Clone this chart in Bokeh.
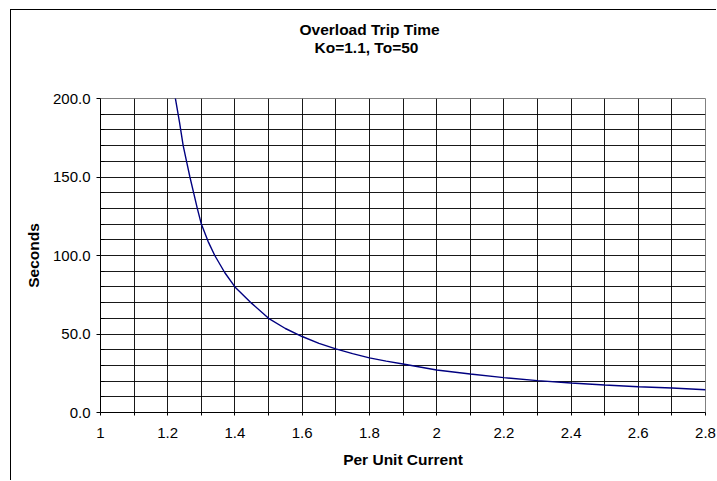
from bokeh.plotting import figure
from bokeh.models import FixedTicker, Range1d, Title
from bokeh.embed import file_html
from bokeh.resources import INLINE

# Data
current = [1.218, 1.235, 1.246, 1.256, 1.266, 1.277, 1.288, 1.30, 1.32, 1.34, 1.37,
           1.40, 1.45, 1.50, 1.55, 1.60, 1.65, 1.70, 1.75, 1.80, 1.85,
           1.90, 2.0, 2.1, 2.2, 2.3, 2.4, 2.5, 2.6, 2.7, 2.8]
seconds = [206, 185, 170, 160, 150, 140, 130, 120, 109, 100, 89,
           80, 69.5, 60, 53.5, 48.4, 44, 40.5, 37.5, 34.8, 32.7,
           30.9, 27.1, 24.5, 22.2, 20.3, 18.8, 17.5, 16.4, 15.6, 14.5]

x_ticks = [1, 1.2, 1.4, 1.6, 1.8, 2, 2.2, 2.4, 2.6, 2.8]
x_tick_labels = ["1", "1.2", "1.4", "1.6", "1.8", "2", "2.2", "2.4", "2.6", "2.8"]
x_minor = [1.1, 1.3, 1.5, 1.7, 1.9, 2.1, 2.3, 2.5, 2.7]
y_ticks = [0, 50, 100, 150, 200]
y_tick_labels = ["0.0", "50.0", "100.0", "150.0", "200.0"]
y_minor = [10, 20, 30, 40, 60, 70, 80, 90, 110, 120, 130, 140, 160, 170, 180, 190]

title_1 = "Overload Trip Time"
title_2 = "Ko=1.1, To=50"
FONT = "Liberation Sans"

p = figure(frame_width=605, frame_height=314,
           min_border_left=89, min_border_right=11, min_border_top=88, min_border_bottom=68,
           x_range=Range1d(1, 2.8), y_range=Range1d(0, 200),
           output_backend="svg", toolbar_location=None,
           styles={"margin-left": "10px", "margin-top": "9px",
                   "border-left": "1px solid black", "border-top": "1px solid black"})
p.background_fill_color = "white"
p.border_fill_color = "white"
p.outline_line_color = "#808080"
p.outline_line_width = 1

# x axis
p.xaxis.ticker = FixedTicker(ticks=x_ticks, minor_ticks=x_minor)
p.xaxis.major_label_overrides = dict(zip(x_ticks, x_tick_labels))
p.xaxis.axis_label = "Per Unit Current"
p.xaxis.major_tick_out = 3
p.xaxis.major_tick_in = 0
p.xaxis.minor_tick_out = 3
p.xaxis.minor_tick_in = 0
p.xaxis.major_label_standoff = 12
p.xaxis.axis_label_standoff = 10

# y axis
p.yaxis.ticker = FixedTicker(ticks=y_ticks, minor_ticks=y_minor)
p.yaxis.major_label_overrides = dict(zip(y_ticks, y_tick_labels))
p.yaxis.axis_label = "Seconds"
p.yaxis.major_tick_out = 4
p.yaxis.major_tick_in = 0
p.yaxis.minor_tick_out = 0
p.yaxis.minor_tick_in = 4
p.yaxis.major_label_standoff = 6
p.yaxis.axis_label_standoff = 8

for ax in (p.xaxis, p.yaxis):
    ax.axis_line_color = "black"
    ax.major_tick_line_color = "black"
    ax.minor_tick_line_color = "black"
    ax.major_label_text_font = FONT
    ax.major_label_text_font_size = "15px"
    ax.major_label_text_color = "black"
    ax.axis_label_text_font = FONT
    ax.axis_label_text_font_size = "15.5px"
    ax.axis_label_text_font_style = "bold"
    ax.axis_label_text_color = "black"

for g in (p.xgrid, p.ygrid):
    g.grid_line_color = "black"
    g.grid_line_alpha = 0.9
    g.minor_grid_line_color = "black"
    g.minor_grid_line_alpha = 0.9

p.line(current, seconds, line_color="#000080", line_width=1.4)

# two-line title (first added sits nearest the frame)
p.title.text = ""
p.add_layout(Title(text=" ", text_font=FONT, text_font_size="28px"), "above")
p.add_layout(Title(text=title_2, align="left", offset=214, text_font=FONT,
                   text_font_size="15.5px", text_font_style="bold",
                   text_color="black", standoff=0), "above")
p.add_layout(Title(text=title_1, align="left", offset=199, text_font=FONT,
                   text_font_size="15.5px", text_font_style="bold",
                   text_color="black", standoff=-3), "above")

open("out.html", "w").write(file_html(p, INLINE))
